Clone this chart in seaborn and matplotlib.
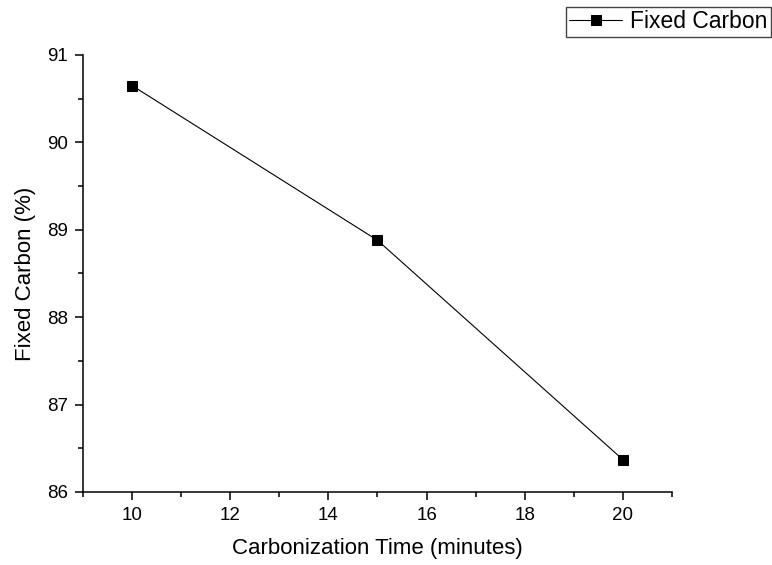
import matplotlib
matplotlib.use('Agg')
from matplotlib import pyplot as plt
from matplotlib.ticker import MultipleLocator
import pandas as pd
import seaborn as sns

# values
carbonization_time = [10, 15, 20]
fixed_carbon = [90.65, 88.88, 86.37]

df = pd.DataFrame({'Carbonization Time (minutes)': carbonization_time,
                   'Fixed Carbon (%)': fixed_carbon})

sns.set_style('ticks')
plt.rcParams['font.family'] = ['Liberation Sans', 'DejaVu Sans']
plt.rcParams['text.color'] = 'black'
plt.rcParams['axes.labelcolor'] = 'black'

fig = plt.figure(figsize=(7.72, 5.65), dpi=100)
ax = fig.add_axes([83 / 772, 73 / 565, 589 / 772, 437 / 565])

sns.lineplot(data=df, x='Carbonization Time (minutes)', y='Fixed Carbon (%)',
             marker='s', markersize=7, color='black', linewidth=0.8,
             markeredgecolor='black', label='Fixed Carbon', ax=ax)

ax.set_xlim(9, 21)
ax.set_ylim(86, 91)
ax.xaxis.set_major_locator(MultipleLocator(2))
ax.xaxis.set_minor_locator(MultipleLocator(1))
ax.yaxis.set_major_locator(MultipleLocator(1))
ax.yaxis.set_minor_locator(MultipleLocator(0.5))

ax.tick_params(which='major', direction='out', length=6, width=1.1, labelsize=13.5, colors='black', pad=5)
ax.tick_params(which='minor', direction='out', length=3.5, width=1.1, colors='black')
for side in ['top', 'right']:
    ax.spines[side].set_visible(False)
for side in ['left', 'bottom']:
    ax.spines[side].set_linewidth(1.1)
    ax.spines[side].set_color('black')

ax.set_xlabel('Carbonization Time (minutes)', fontsize=16, labelpad=10)
ax.set_ylabel('Fixed Carbon (%)', fontsize=16, labelpad=8)

ax.get_legend().remove()
handles, labels = ax.get_legend_handles_labels()
leg = fig.legend(handles, labels, loc='upper right', bbox_to_anchor=(771 / 772, 1 - 7 / 565),
                 fontsize=16.5, frameon=True, fancybox=False, framealpha=1,
                 edgecolor='#444444', handlelength=2.3, handletextpad=0.35,
                 borderpad=0.15, borderaxespad=0)
leg.get_frame().set_linewidth(1.0)

fig.savefig('out.png', dpi=100)
